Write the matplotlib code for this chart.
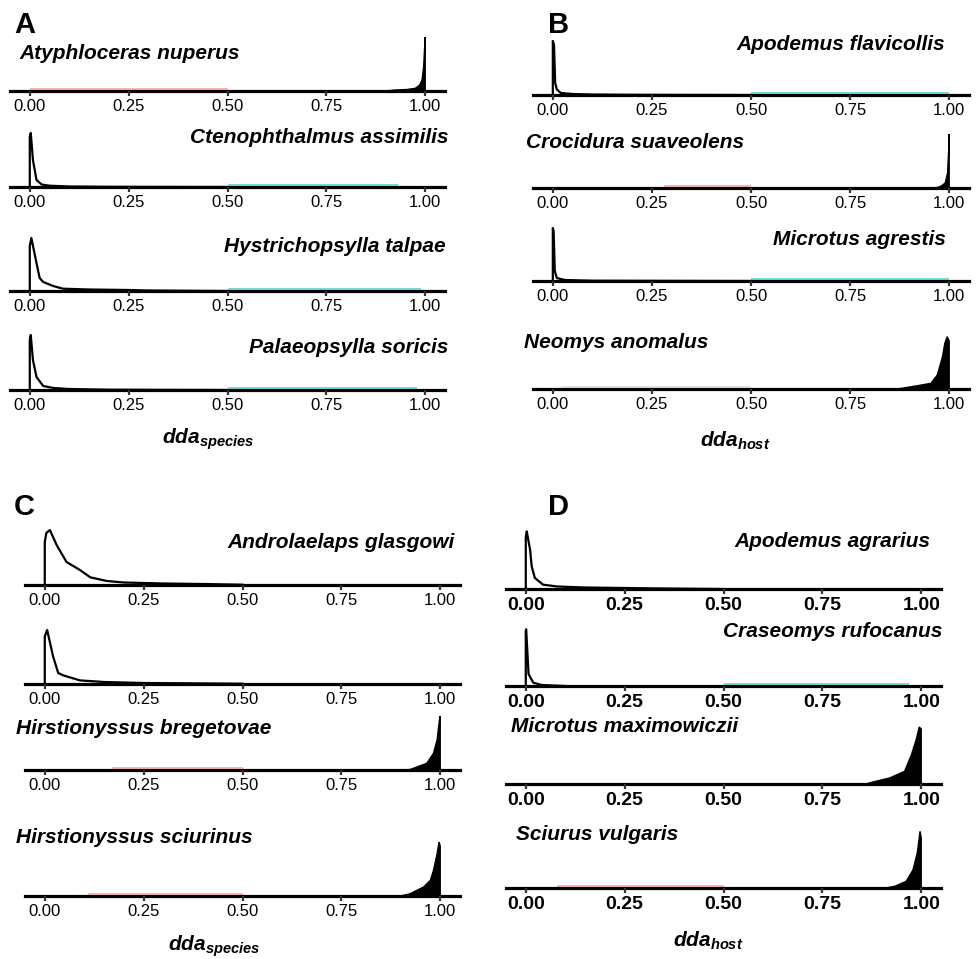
import matplotlib
matplotlib.use("Agg")
import matplotlib.pyplot as plt

plt.rcParams['font.family'] = 'Liberation Sans'
plt.rcParams['mathtext.fontset'] = 'custom'
plt.rcParams['mathtext.it'] = 'Liberation Sans:italic:bold'
plt.rcParams['mathtext.rm'] = 'Liberation Sans:bold'

W, H = 976, 959

# ---- data (density curves, arbitrary units) ----
tick_vals = [0.0, 0.25, 0.5, 0.75, 1.0]
tick_labels = ["0.00", "0.25", "0.50", "0.75", "1.00"]

names_a = ["Atyphloceras nuperus", "Ctenophthalmus assimilis",
           "Hystrichopsylla talpae", "Palaeopsylla soricis"]
names_b = ["Apodemus flavicollis", "Crocidura suaveolens",
           "Microtus agrestis", "Neomys anomalus"]
names_c = ["Androlaelaps glasgowi", "",
           "Hirstionyssus bregetovae", "Hirstionyssus sciurinus"]
names_d = ["Apodemus agrarius", "Craseomys rufocanus",
           "Microtus maximowiczii", "Sciurus vulgaris"]

a1_x = [0.90, 0.924, 0.954, 0.975, 0.986, 0.992, 0.996, 0.998, 1.0, 1.0]
a1_y = [0, 1, 1.5, 2.7, 6, 11, 24, 40, 54, 0]
a2_x = [0, 0, 0.0025, 0.008, 0.017, 0.03, 0.05, 0.1, 0.2, 0.5]
a2_y = [0, 50, 54, 27, 7, 2.5, 1.3, 0.5, 0.2, 0]
a3_x = [0, 0, 0.004, 0.017, 0.025, 0.034, 0.059, 0.084, 0.15, 0.25, 0.3, 0.5]
a3_y = [0, 45, 53, 28, 13, 9, 5, 2.3, 1.5, 1, 0.5, 0]
a4_x = [0, 0, 0.0025, 0.008, 0.017, 0.034, 0.06, 0.1, 0.2, 0.5]
a4_y = [0, 50, 55, 30, 13, 4, 2, 1, 0.3, 0]

b1_x = [0, 0, 0.003, 0.006, 0.01, 0.02, 0.05, 0.1, 0.2, 0.5]
b1_y = [0, 54, 50, 12, 5.7, 2, 1, 0.5, 0.2, 0]
b2_x = [0.95, 0.97, 0.98, 0.99, 0.996, 0.999, 1.0, 1.0]
b2_y = [0, 0.5, 2, 5, 15, 40, 54, 0]
b3_x = [0, 0, 0.002, 0.005, 0.01, 0.03, 0.1, 0.5]
b3_y = [0, 53, 50, 10, 3, 1, 0.3, 0]
b4_x = [0.86, 0.878, 0.92, 0.954, 0.97, 0.983, 0.989, 0.995, 1.0, 1.0]
b4_y = [0, 0.5, 3.3, 5.7, 14, 32, 45.7, 52.3, 48, 0]

c1_x = [0, 0, 0.004, 0.013, 0.03, 0.055, 0.089, 0.115, 0.157, 0.2, 0.3, 0.4, 0.5]
c1_y = [0, 43, 52, 55, 40, 23, 15, 7.7, 4, 2.5, 1.5, 1, 0.3]
c2_x = [0, 0, 0.006, 0.021, 0.034, 0.047, 0.089, 0.15, 0.25, 0.5]
c2_y = [0, 47.6, 54, 27.6, 11, 8.6, 3.6, 2, 1, 0.3]
c3_x = [0.90, 0.924, 0.966, 0.983, 0.992, 0.998, 1.0, 1.0]
c3_y = [0, 0.5, 6.7, 16.7, 30, 50, 54, 0]
c4_x = [0.90, 0.924, 0.958, 0.975, 0.983, 0.992, 0.997, 1.0, 1.0]
c4_y = [0, 2.3, 9, 15.7, 25.7, 42, 54, 50, 0]

d1_x = [0, 0, 0.0025, 0.011, 0.015, 0.023, 0.044, 0.08, 0.15, 0.25, 0.35, 0.5]
d1_y = [0, 52, 57.6, 39, 22.6, 11, 4.3, 2.5, 1.5, 1, 0.5, 0]
d2_x = [0, 0, 0.001, 0.007, 0.019, 0.04, 0.1]
d2_y = [0, 55, 56.7, 12, 3.3, 1, 0]
d3_x = [0.86, 0.878, 0.92, 0.958, 0.975, 0.987, 0.995, 1.0, 1.0]
d3_y = [0, 2, 6, 12.7, 29, 44, 57, 55, 0]
d4_x = [0.91, 0.933, 0.962, 0.979, 0.99, 0.997, 1.0, 1.0]
d4_y = [0, 1.7, 6.7, 18, 35, 56.7, 50, 0]

# faint interval segments along the axis: (colour, start, end)
red, cyan, grey = "#F8766D", "#00BFC4", "#C8C8C8"
seg_a = [(red, 0.0, 0.5), (cyan, 0.5, 0.93), (cyan, 0.5, 0.99), (cyan, 0.5, 0.98)]
seg_b = [(cyan, 0.5, 1.0), (red, 0.28, 0.5), (cyan, 0.5, 1.0), (grey, 0.02, 0.5)]
seg_c = [None, None, (red, 0.17, 0.5), (red, 0.11, 0.5)]
seg_d = [None, (cyan, 0.5, 0.97), None, (red, 0.08, 0.5)]

fig = plt.figure(figsize=(W / 100, H / 100), dpi=100)


def fx(x):
    return x / W


def fy(y):
    return 1 - y / H


def draw_panel(left, right, baselines, curves, filled, segs, names, sides,
               name_pos, letter, letter_pos, xlab, xlab_pos, tick_size, tick_weight):
    for i, base in enumerate(baselines):
        ax = fig.add_axes([fx(left), fy(base), (right - left) / W, 60 / H])
        ax.set_xlim(-0.05, 1.05)
        ax.set_ylim(0, 60)
        for s in ["top", "left", "right"]:
            ax.spines[s].set_visible(False)
        ax.spines["bottom"].set_linewidth(2.3)
        ax.spines["bottom"].set_zorder(1)
        ax.patch.set_alpha(0)
        ax.set_yticks([])
        ax.set_xticks(tick_vals)
        ax.set_xticklabels(tick_labels, fontsize=tick_size, fontweight=tick_weight)
        ax.tick_params(axis="x", length=3.5, width=1.6, color="#333333", pad=2)
        seg = segs[i]
        if seg is not None:
            ax.hlines(1.8, seg[1], seg[2], color=seg[0], lw=1.3, alpha=0.6, zorder=2)
        cx, cy = curves[i]
        if filled[i]:
            ax.fill(cx, cy, color="black", lw=1.0, zorder=3)
        else:
            ax.plot(cx, cy, color="black", lw=1.6, zorder=3, solid_joinstyle="round")
        if names[i]:
            px, py = name_pos[i]
            fig.text(fx(px), fy(py), names[i], ha=sides[i], va="baseline",
                     fontsize=15, fontweight="bold", style="italic")
    fig.text(fx(letter_pos[0]), fy(letter_pos[1]), letter, ha="left", va="baseline",
             fontsize=21, fontweight="bold")
    fig.text(fx(xlab_pos[0]), fy(xlab_pos[1]), xlab, ha="center", va="baseline",
             fontsize=15)


draw_panel(10, 445, [91, 187, 291, 390],
           [(a1_x, a1_y), (a2_x, a2_y), (a3_x, a3_y), (a4_x, a4_y)],
           [True, False, False, False], seg_a, names_a,
           ["left", "right", "right", "right"],
           [(19, 59), (448, 143), (446, 252), (448, 353)],
           "A", (14, 33), r"$dda_{species}$", (208, 444), 12, "normal")

draw_panel(533, 969, [95, 188, 281, 389],
           [(b1_x, b1_y), (b2_x, b2_y), (b3_x, b3_y), (b4_x, b4_y)],
           [False, True, False, True], seg_b, names_b,
           ["right", "left", "right", "left"],
           [(945, 50), (526, 148), (946, 245), (524, 348)],
           "B", (548, 33), r"$dda_{host}$", (735, 447), 12, "normal")

draw_panel(25, 460, [585, 684, 770, 896],
           [(c1_x, c1_y), (c2_x, c2_y), (c3_x, c3_y), (c4_x, c4_y)],
           [False, False, True, True], seg_c, names_c,
           ["right", "right", "left", "left"],
           [(455, 548), (455, 640), (16, 734), (16, 843)],
           "C", (14, 515), r"$dda_{species}$", (214, 951), 12, "normal")

draw_panel(506, 941, [589, 686, 784, 888],
           [(d1_x, d1_y), (d2_x, d2_y), (d3_x, d3_y), (d4_x, d4_y)],
           [False, False, True, True], seg_d, names_d,
           ["right", "right", "left", "left"],
           [(930, 547), (942, 637), (511, 732), (516, 840)],
           "D", (548, 515), r"$dda_{host}$", (708, 947), 14, "bold")

fig.savefig("out.png", dpi=100)
